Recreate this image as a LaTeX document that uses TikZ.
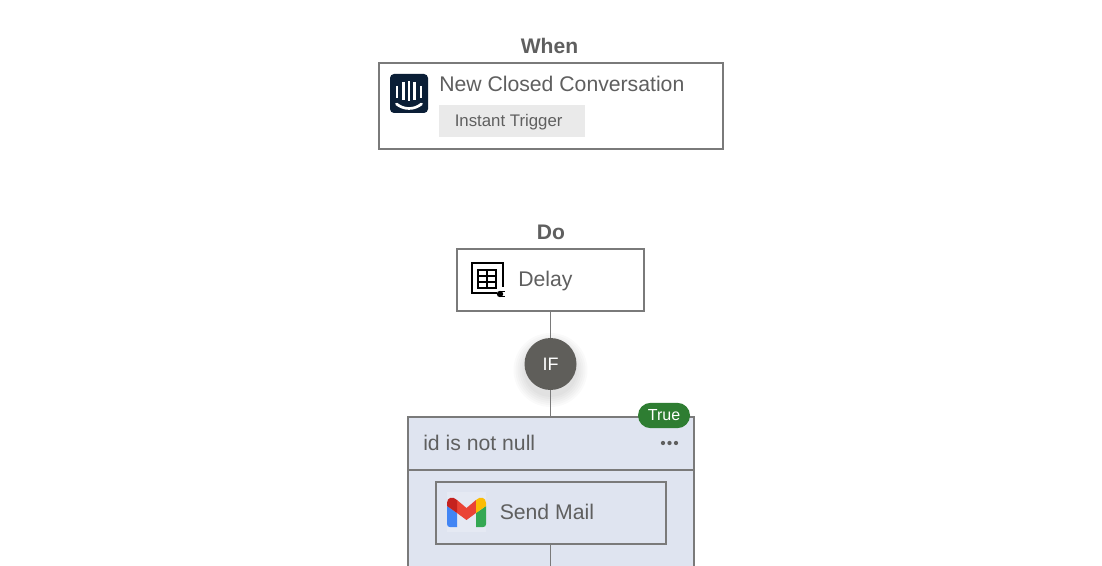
\documentclass[tikz,border=0pt]{standalone}
\usepackage{fontspec}
\setmainfont{Liberation Sans}
\definecolor{inktext}{HTML}{5F5F5F}
\definecolor{edgegray}{HTML}{7A7A7A}
\definecolor{branchfill}{HTML}{DFE4F0}
\definecolor{chipgray}{HTML}{EAEAEA}
\definecolor{ifgray}{HTML}{5F5E5A}
\definecolor{truegreen}{HTML}{2E7D32}
\definecolor{intercomblue}{HTML}{0A1E36}
\definecolor{gmailblue}{HTML}{4285F4}
\definecolor{gmailgreen}{HTML}{34A853}
\definecolor{gmailred}{HTML}{EA4335}
\definecolor{gmaildark}{HTML}{C5221F}
\definecolor{gmailyellow}{HTML}{FBBC04}
\tikzset{
  cardbox/.style={draw=edgegray, line width=0.85pt, fill=white, inner sep=0pt},
  cardtext/.style={text=inktext, anchor=base west, inner sep=0pt, font=\fontsize{15.9}{18}\selectfont},
  headtext/.style={text=inktext, anchor=base, inner sep=0pt, font=\fontsize{15.8}{18}\selectfont\bfseries},
  connector/.style={draw=edgegray, line width=0.8pt},
}
\begin{document}
\begin{tikzpicture}[x=0.75pt,y=-0.75pt]
\useasboundingbox (0,0) rectangle (1102,566);
\clip (0,0) rectangle (1102,566);
\fill[white] (0,0) rectangle (1102,566);
% trigger
\node[headtext] (whenlabel) at (549.5,54) {When};
\node[cardbox, minimum width=258pt, minimum height=64.5pt] (whenbox) at (551,106) {};
\fill[intercomblue, rounded corners=3pt] (390,74) rectangle (428,113);
\foreach \x/\a/\b in {397/86/98, 403.2/82/100, 409/81/101, 414.8/82/100, 421/86/98}
    \draw[white, line width=2pt] (\x,\a) -- (\x,\b);
\draw[white, line width=2pt, line cap=round] (396.5,104) .. controls (404,110) and (414,110) .. (421.5,104);
\node[cardtext] (whentitle) at (439,92) {New Closed Conversation};
\node[fill=chipgray, minimum width=109.5pt, minimum height=23.5pt, inner sep=0pt] (chip) at (512,121) {};
\node[cardtext, font=\fontsize{12.6}{14}\selectfont] (chiptext) at (454.5,126.5) {Instant Trigger};
% action
\node[headtext] (dolabel) at (551,240) {Do};
\node[cardbox, minimum width=140.25pt, minimum height=46.5pt] (delay) at (550.5,280) {};
\draw[black, line width=1.8pt] (503,287) -- (503,263) -- (472,263) -- (472,293) -- (497,293);
\draw[black, line width=1pt] (478,270) rectangle (496,288);
\draw[black, line width=1pt] (487,270) -- (487,288) (478,276) -- (496,276) (478,282) -- (496,282);
\fill[black] (500,294) circle (2.4pt);
\draw[black, line width=0.9pt] (501,291.5) -- (505,291.5) (501,296.5) -- (505,296.5);
\node[cardtext] (delaytext) at (518,286.5) {Delay};
% condition
\node[cardbox, fill=branchfill, minimum width=214.5pt, minimum height=165pt] (branch) at (551,527) {};
\coordinate (headleft) at (408,470);
\coordinate (headright) at (693,470);
\draw[edgegray, line width=0.85pt] (headleft) -- (headright);
\node[cardtext] (branchtext) at (423,450) {id is not null};
\foreach \x in {663,669.5,676}
    \fill[inktext] (\x,443) circle (1.6pt);
\node[cardbox, fill=branchfill, minimum width=172.5pt, minimum height=46.5pt] (mail) at (551,513) {};
\fill[white, opacity=0.2] (447,492) rectangle (486,532);
\fill[gmailblue] (447,506) -- (457,513) -- (457,527) -- (450,527) .. controls (448,527) and (447,526) .. (447,524) -- cycle;
\fill[gmailgreen] (486,506) -- (476,513) -- (476,527) -- (483,527) .. controls (485,527) and (486,526) .. (486,524) -- cycle;
\fill[gmailred] (457,500) -- (466.5,508) -- (476,500) -- (476,513) -- (466.5,520) -- (457,513) -- cycle;
\fill[gmaildark] (447,503) .. controls (447,497) and (453,496) .. (457,500) -- (457,513) -- (447,506) -- cycle;
\fill[gmailyellow] (476,500) .. controls (480,496) and (486,497) .. (486,503) -- (486,506) -- (476,513) -- cycle;
\node[cardtext] (mailtext) at (499.5,519) {Send Mail};
\coordinate (mailend) at (550,566);
% soft shadow under the if circle
\foreach \r in {37,35,33,31,29,27}
    \fill[black, opacity=0.02] (550.5,370) circle (0.75*\r pt);
\node[circle, fill=ifgray, minimum size=39pt, inner sep=0pt, text=white, font=\fontsize{13.5}{14}\selectfont] (ifnode) at (550.5,364) {IF};
\draw[connector] (delay.south) -- (ifnode);
\draw[connector] (ifnode) -- (ifnode |- branch.north);
\draw[connector] (ifnode |- mail.south) -- (ifnode |- mailend);
\node[fill=truegreen, rounded corners=9.5pt, minimum width=39pt, minimum height=19pt, inner sep=0pt, text=white, font=\fontsize{12}{14}\selectfont] (truebadge) at (664,415.5) {True};
\end{tikzpicture}
\end{document}
